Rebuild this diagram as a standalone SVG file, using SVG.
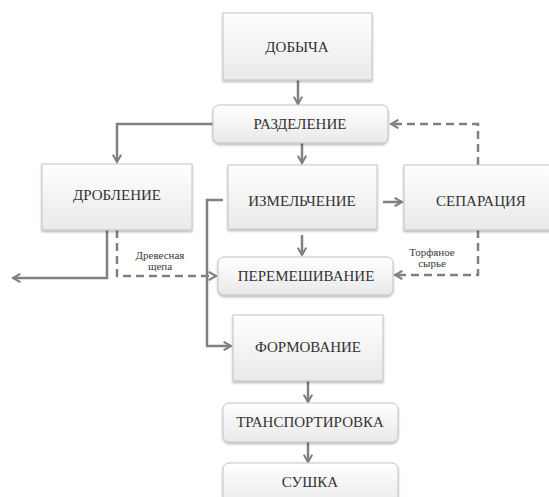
<svg xmlns="http://www.w3.org/2000/svg" width="549" height="497" viewBox="0 0 549 497">
<defs>
<linearGradient id="g" x1="0" y1="0" x2="0" y2="1">
<stop offset="0" stop-color="#ffffff"/>
<stop offset="1" stop-color="#e9e9e9"/>
</linearGradient>
<filter id="sh" x="-10%" y="-10%" width="120%" height="130%">
<feDropShadow dx="0" dy="1.5" stdDeviation="1" flood-color="#000" flood-opacity="0.3"/>
</filter>
<marker id="ah" viewBox="0 0 10 10" refX="8" refY="5" markerWidth="4.2" markerHeight="4.2" orient="auto" markerUnits="strokeWidth">
<polyline points="1,1 8,5 1,9" fill="none" stroke="#808080" stroke-width="2"/>
</marker>
</defs>
<style>
.box{fill:url(#g);stroke:#c4c4c4;stroke-width:1;filter:url(#sh)}
.t{font-family:'Liberation Serif','Times New Roman',serif;font-size:15px;fill:#333;text-anchor:middle}
.s{font-family:'Liberation Serif','Times New Roman',serif;font-size:11px;fill:#3a3a3a;text-anchor:middle}
.c{fill:none;stroke:#808080;stroke-width:2.5}
.d{stroke-dasharray:8,5}
</style>
<rect width="549" height="497" fill="#fff"/>
<g id="connectors">
<path class="c" d="M298,80 V104" marker-end="url(#ah)"/>
<path class="c" d="M213,124 H117 V162" marker-end="url(#ah)"/>
<path class="c" d="M302,143 V163" marker-end="url(#ah)"/>
<path class="c" d="M383,202 H402" marker-end="url(#ah)"/>
<path class="c d" d="M478,165 V124 H391" marker-end="url(#ah)"/>
<path class="c" d="M302,235 V255" marker-end="url(#ah)"/>
<path class="c d" d="M478,230 V275 H395" marker-end="url(#ah)"/>
<path class="c" d="M107,230 V278 H13" marker-end="url(#ah)"/>
<path class="c d" d="M117,230 V276 H216" marker-end="url(#ah)"/>
<path class="c" d="M223,200 H207 V346 H231" marker-end="url(#ah)"/>
<path class="c" d="M308,381 V402" marker-end="url(#ah)"/>
<path class="c" d="M308,442 V462" marker-end="url(#ah)"/>
</g>
<g id="dobycha"><rect class="box" x="223" y="13" width="149" height="67"/><text class="t" x="297" y="52">ДОБЫЧА</text></g>
<g id="razdelenie"><rect class="box" x="213" y="105" width="175" height="38" rx="6"/><text class="t" x="300" y="128.5">РАЗДЕЛЕНИЕ</text></g>
<g id="droblenie"><rect class="box" x="42" y="164" width="150" height="66"/><text class="t" x="117" y="200">ДРОБЛЕНИЕ</text></g>
<g id="izmelchenie"><rect class="box" x="228" y="165" width="149" height="64"/><text class="t" x="302" y="205.5">ИЗМЕЛЬЧЕНИЕ</text></g>
<g id="separatsiya"><rect class="box" x="404" y="165" width="152" height="65"/><text class="t" x="481" y="205.5">СЕПАРАЦИЯ</text></g>
<g id="peremeshivanie"><rect class="box" x="218" y="257" width="175" height="38" rx="6"/><text class="t" x="306" y="280.5">ПЕРЕМЕШИВАНИЕ</text></g>
<g id="formovanie"><rect class="box" x="233" y="315" width="150" height="66"/><text class="t" x="308" y="352">ФОРМОВАНИЕ</text></g>
<g id="transportirovka"><rect class="box" x="223" y="403" width="175" height="39" rx="6"/><text class="t" x="310" y="427">ТРАНСПОРТИРОВКА</text></g>
<g id="sushka"><rect class="box" x="223" y="463" width="175" height="44" rx="6"/><text class="t" x="310" y="486.5">СУШКА</text></g>
<g id="labels">
<text class="s" x="160" y="258.5">Древесная</text>
<text class="s" x="160" y="270">щепа</text>
<text class="s" x="432" y="255.5">Торфяное</text>
<text class="s" x="432" y="267">сырье</text>
</g>
</svg>
